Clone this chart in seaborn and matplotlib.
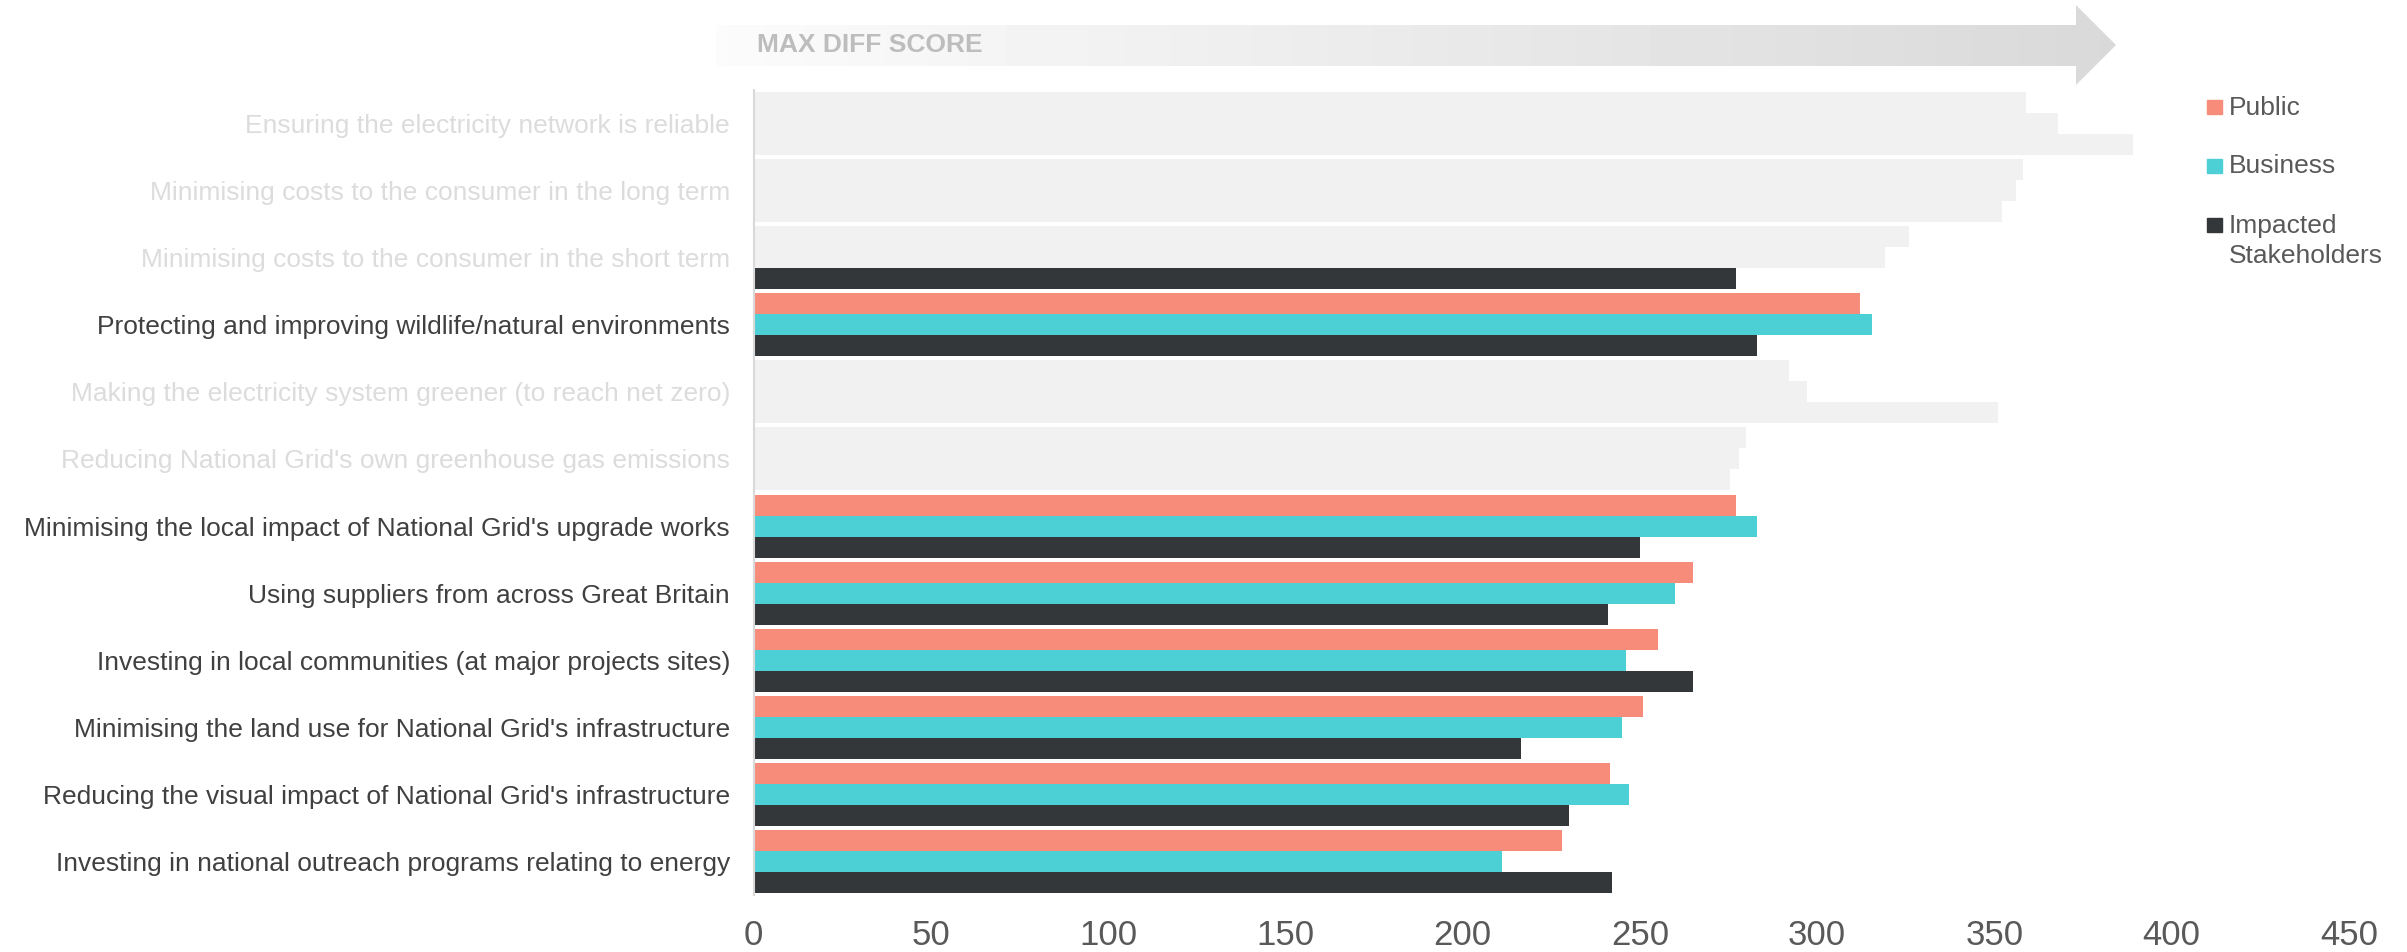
import numpy as np
import pandas as pd
import matplotlib.pyplot as plt
import seaborn as sns
from matplotlib.patches import Polygon, Rectangle

# datos
categories = [
    "Ensuring the electricity network is reliable",
    "Minimising costs to the consumer in the long term",
    "Minimising costs to the consumer in the short term",
    "Protecting and improving wildlife/natural environments",
    "Making the electricity system greener (to reach net zero)",
    "Reducing National Grid's own greenhouse gas emissions",
    "Minimising the local impact of National Grid's upgrade works",
    "Using suppliers from across Great Britain",
    "Investing in local communities (at major projects sites)",
    "Minimising the land use for National Grid's infrastructure",
    "Reducing the visual impact of National Grid's infrastructure",
    "Investing in national outreach programs relating to energy",
]
groups = ["Public", "Business", "Impacted Stakeholders"]
public = [359, 358, 326, 312, 292, 280, 277, 265, 255, 251, 241.5, 228]
business = [368, 356, 319, 315.5, 297, 278, 283, 260, 246, 245, 247, 211]
impacted = [389, 352, 277, 283, 351, 275.5, 250, 241, 265, 216.5, 230, 242]

# 1 = barra resaltada, 0 = barra en gris
show_public = [0, 0, 0, 1, 0, 0, 1, 1, 1, 1, 1, 1]
show_business = [0, 0, 0, 1, 0, 0, 1, 1, 1, 1, 1, 1]
show_impacted = [0, 0, 1, 1, 0, 0, 1, 1, 1, 1, 1, 1]

colors = ["#F88C7A", "#4DD0D5", "#33373A"]
muted = "#F1F1F1"
label_on = "#404040"
label_off = "#DCDCDC"

df = pd.DataFrame({
    "category": categories * 3,
    "group": np.repeat(groups, len(categories)),
    "score": public + business + impacted,
})

sns.set_style("white")
plt.rcParams["font.family"] = ["Liberation Sans", "DejaVu Sans"]

W, H = 2407, 952
fig = plt.figure(figsize=(W / 100, H / 100), dpi=100)
ax = fig.add_axes([753.6 / W, 1 - 895 / H, (2349 - 753.6) / W, 805 / H])

sns.barplot(data=df, y="category", x="score", hue="group", orient="h",
            palette=colors, width=0.94, saturation=1, legend=False,
            linewidth=0, ax=ax)

for cont, flags in zip(ax.containers, [show_public, show_business, show_impacted]):
    for bar, f in zip(cont, flags):
        bar.set_linewidth(0)
        if not f:
            bar.set_facecolor(muted)

ax.set_xlim(0, 450)
ax.set_ylim(11.5, -0.5)
ax.set_xticks(range(0, 451, 50))
ax.set_xlabel("")
ax.set_ylabel("")
ax.tick_params(axis="x", length=0, labelsize=25, labelcolor="#595959", pad=17)
ax.tick_params(axis="y", which="major", length=0, labelsize=19, pad=17)
ax.set_yticks(np.arange(-0.5, 12, 1), minor=True)
ax.tick_params(axis="y", which="minor", length=6, width=1.5, color="#D9D9D9")
for lab, f in zip(ax.get_yticklabels(), show_public):
    lab.set_color(label_on if f else label_off)

for s in ["top", "right", "bottom"]:
    ax.spines[s].set_visible(False)
ax.spines["left"].set_color("#D9D9D9")
ax.spines["left"].set_linewidth(1.5)


def px(x, y):
    return (x / W, 1 - y / H)


# flecha de cabecera con degradado
arrow_pts = [px(716, 25), px(2076, 25), px(2076, 5), px(2116, 45),
             px(2076, 85), px(2076, 66), px(716, 66)]
ax_arr = fig.add_axes([0, 0, 1, 1], zorder=-1)
ax_arr.set_xlim(0, 1)
ax_arr.set_ylim(0, 1)
ax_arr.axis("off")
grad = np.linspace(0.985, 0.85, 256).reshape(1, -1)
im = ax_arr.imshow(grad, cmap="gray", vmin=0, vmax=1, aspect="auto",
                   extent=[716 / W, 2116 / W, 1 - 85 / H, 1 - 5 / H])
poly = Polygon(arrow_pts, closed=True, facecolor="none", edgecolor="none",
               transform=ax_arr.transAxes)
ax_arr.add_patch(poly)
im.set_clip_path(poly)
fig.text(*px(757, 45), "MAX DIFF SCORE", fontsize=19, fontweight="bold",
         color="#BDBDBD", ha="left", va="center")

# leyenda
leg_y = [(100, 115), (159, 173), (218, 233)]
for (sq, base), c, t in zip(leg_y, colors, ["Public", "Business", "Impacted"]):
    fig.add_artist(Rectangle(px(2207, sq + 14), 15 / W, 14 / H, color=c,
                             transform=fig.transFigure))
    fig.text(*px(2229, base), t, fontsize=19, color="#595959",
             ha="left", va="baseline")
fig.text(*px(2229, 263), "Stakeholders", fontsize=19, color="#595959",
         ha="left", va="baseline")

plt.savefig("out.png", dpi=100)
plt.close()
